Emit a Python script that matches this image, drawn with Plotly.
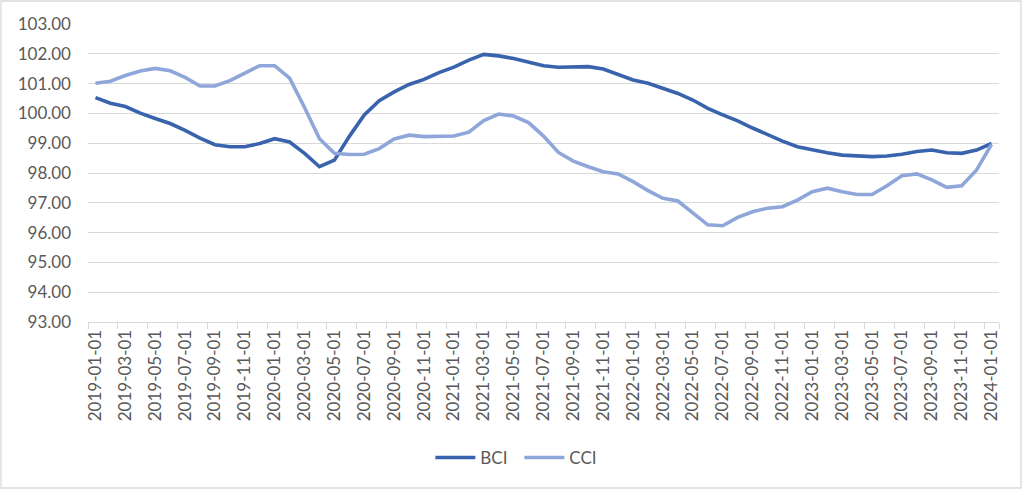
import plotly.graph_objects as go

months = [f"{y}-{m:02d}-01" for y in range(2019, 2024) for m in range(1, 13)] + ["2024-01-01"]

bci = [100.53, 100.34, 100.23, 100.01, 99.83, 99.66, 99.43, 99.17, 98.95, 98.88,
       98.88, 98.99, 99.15, 99.04, 98.66, 98.21, 98.43, 99.23, 99.95, 100.43,
       100.72, 100.97, 101.14, 101.37, 101.55, 101.79, 101.98, 101.93, 101.84, 101.72,
       101.60, 101.55, 101.57, 101.57, 101.49, 101.29, 101.12, 101.01, 100.84, 100.67,
       100.45, 100.17, 99.95, 99.75, 99.51, 99.28, 99.07, 98.88, 98.77, 98.68,
       98.60, 98.57, 98.55, 98.57, 98.63, 98.72, 98.77, 98.68, 98.66, 98.77,
       98.99]

cci = [101.01, 101.08, 101.27, 101.42, 101.51, 101.43, 101.21, 100.92, 100.92, 101.10,
       101.35, 101.60, 101.60, 101.18, 100.20, 99.15, 98.66, 98.62, 98.63, 98.82,
       99.14, 99.27, 99.22, 99.23, 99.24, 99.37, 99.76, 99.98, 99.91, 99.69,
       99.24, 98.69, 98.40, 98.21, 98.04, 97.97, 97.71, 97.41, 97.15, 97.06,
       96.65, 96.26, 96.23, 96.51, 96.70, 96.82, 96.87, 97.09, 97.37, 97.49,
       97.37, 97.28, 97.28, 97.57, 97.91, 97.97, 97.77, 97.52, 97.57, 98.10,
       98.96]

y_ticks = [93, 94, 95, 96, 97, 98, 99, 100, 101, 102, 103]
x_ticks = months[::2]

FONT = "Lato"
GRAY = "#595959"
GRID = "#d9d9d9"

fig = go.Figure()
fig.add_trace(go.Scatter(x=months, y=bci, mode="lines", name="BCI",
                         line=dict(color="#3a63ad", width=3.6)))
fig.add_trace(go.Scatter(x=months, y=cci, mode="lines", name="CCI",
                         line=dict(color="#8fa6da", width=3.6)))

fig.update_layout(
    width=1024, height=490,
    margin=dict(l=88, r=25, t=24, b=168, autoexpand=False),
    paper_bgcolor="white", plot_bgcolor="white",
    font=dict(family=FONT, size=17, color=GRAY),
    showlegend=True,
    legend=dict(orientation="h", x=0.4735, xanchor="center", y=-0.456, yanchor="middle",
                font=dict(family=FONT, size=17, color=GRAY), itemwidth=40,
                entrywidth=34),
    xaxis=dict(type="category", range=[-0.5, 60.5], tickmode="array",
               tickvals=x_ticks, ticktext=x_ticks, tickangle=-90,
               tickson="boundaries", ticks="outside", ticklen=6, tickcolor=GRID,
               showgrid=False, showline=True, linecolor=GRID, linewidth=1,
               automargin=False,
               tickfont=dict(family=FONT, size=17, color=GRAY)),
    yaxis=dict(range=[93, 103], tickmode="array", tickvals=y_ticks,
               ticktext=[f"{v:.2f}" for v in y_ticks],
               showgrid=True, gridcolor=GRID, gridwidth=1.3, zeroline=False,
               showline=False, ticks="", ticklabelstandoff=16, automargin=False,
               tickfont=dict(family=FONT, size=17, color=GRAY)),
    shapes=[dict(type="rect", xref="paper", yref="paper",
                 x0=(1 - 88) / 911, x1=(1021 - 88) / 911,
                 y0=(322 - 488) / 298, y1=(322 - 1) / 298,
                 line=dict(color=GRID, width=1.3), layer="below")],
)

fig.write_html("out.html", config={"displayModeBar": False},
               post_script="document.body.style.margin='0';document.body.style.padding='0';")
